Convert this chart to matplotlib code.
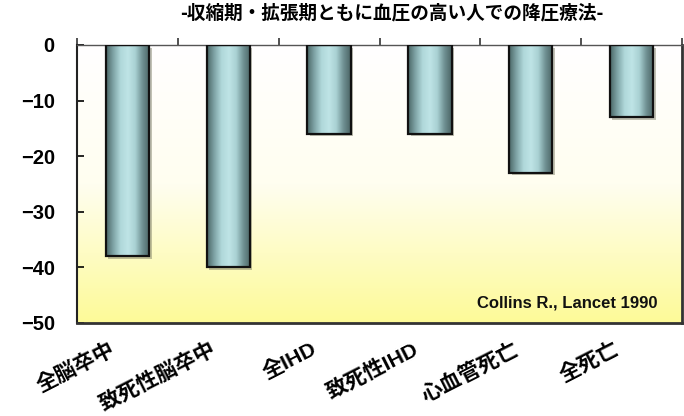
import numpy as np
import matplotlib
matplotlib.use("Agg")
import matplotlib.pyplot as plt
import matplotlib.transforms as mtransforms
from matplotlib.colors import LinearSegmentedColormap

categories = ["全脳卒中", "致死性脳卒中", "全IHD", "致死性IHD", "心血管死亡", "全死亡"]
values = [-38, -40, -16, -16, -23, -13]
yticks = [0, -10, -20, -30, -40, -50]
title = "-収縮期・拡張期ともに血圧の高い人での降圧療法-"
source = "Collins R., Lancet 1990"

cjk = ["Noto Sans CJK JP", "DejaVu Sans"]
latin_cjk = ["Liberation Sans", "Noto Sans CJK JP", "DejaVu Sans"]

fig = plt.figure(figsize=(6.84, 4.16), dpi=100)
ax = fig.add_axes([77/684, 1-323/416, 605/684, 278/416])

x = np.arange(len(categories))
ax.set_xlim(-0.5, len(categories) - 0.5)
ax.set_ylim(-50, 0)

# background gradient white -> yellow
bg = LinearSegmentedColormap.from_list("bg", ["#fdfa98", "#fffef0", "#ffffff"])
grad = np.linspace(0, 1, 256).reshape(-1, 1)
ax.imshow(grad, aspect="auto", cmap=bg, origin="lower",
          extent=[-0.5, len(categories) - 0.5, -50, 0], zorder=0)

bw = 0.43
# shadow
shadow_tr = ax.transData + mtransforms.ScaledTranslation(2.5/100, -2.5/100, fig.dpi_scale_trans)
ax.bar(x, values, width=bw, color="#777760", alpha=0.45, linewidth=0,
       transform=shadow_tr, zorder=1)

bars = ax.bar(x, values, width=bw, facecolor="none", edgecolor="#111111",
              linewidth=1.6, zorder=3)
barcmap = LinearSegmentedColormap.from_list(
    "bar", ["#4a6666", "#7fa4a6", "#b0d8da", "#bfe4e6", "#a9d1d3", "#6f9092", "#4a6464"])
hgrad = np.linspace(0, 1, 256).reshape(1, -1)
for b in bars:
    x0, y0 = b.get_x(), b.get_y()
    w, h = b.get_width(), b.get_height()
    im = ax.imshow(hgrad, aspect="auto", cmap=barcmap,
                   extent=[x0, x0 + w, y0, y0 + h], zorder=2)
    im.set_clip_path(b)

ax.set_xlim(-0.5, len(categories) - 0.5)
ax.set_ylim(-50, 0)

# y axis
ax.set_yticks(yticks)
ax.set_yticklabels([str(v).replace("-", "\u2212") for v in yticks],
                   fontfamily="Liberation Sans", fontweight="bold", fontsize=14.5)
ax.tick_params(axis="y", direction="in", length=5, width=1.2, pad=16, colors="black")

# x axis labels
ax.set_xticks(x)
ax.set_xticklabels(categories, rotation=27, ha="right", va="top",
                   rotation_mode="anchor", fontweight="bold", fontsize=15.3,
                   fontfamily=latin_cjk)
ax.tick_params(axis="x", which="major", length=0, pad=11.5)
offset = mtransforms.ScaledTranslation(-18/100, 0, fig.dpi_scale_trans)
for lab in ax.get_xticklabels():
    lab.set_transform(lab.get_transform() + offset)

# top boundary ticks
ax.set_xticks(np.arange(-0.5, len(categories)), minor=True)
ax.tick_params(axis="x", which="minor", top=True, bottom=False, direction="out",
               length=5, width=1.2, color="#333333")

ax.spines["left"].set_linewidth(1.5)
ax.spines["left"].set_color("#222222")
ax.spines["top"].set_linewidth(1.0)
ax.spines["top"].set_color("#555555")
ax.spines["bottom"].set_linewidth(2.0)
ax.spines["bottom"].set_color("#333333")
ax.spines["right"].set_linewidth(2.0)
ax.spines["right"].set_color("#333333")

ax.text(0.960, 0.054, source, transform=ax.transAxes, ha="right", va="baseline",
        fontfamily="Liberation Sans", fontweight="bold", fontsize=12, color="#111111")

fig.text(392/684, 1 - 13/416, title, ha="center", va="center",
         fontfamily=cjk, fontweight="bold", fontsize=13.4)

fig.savefig("out.png", dpi=100)
